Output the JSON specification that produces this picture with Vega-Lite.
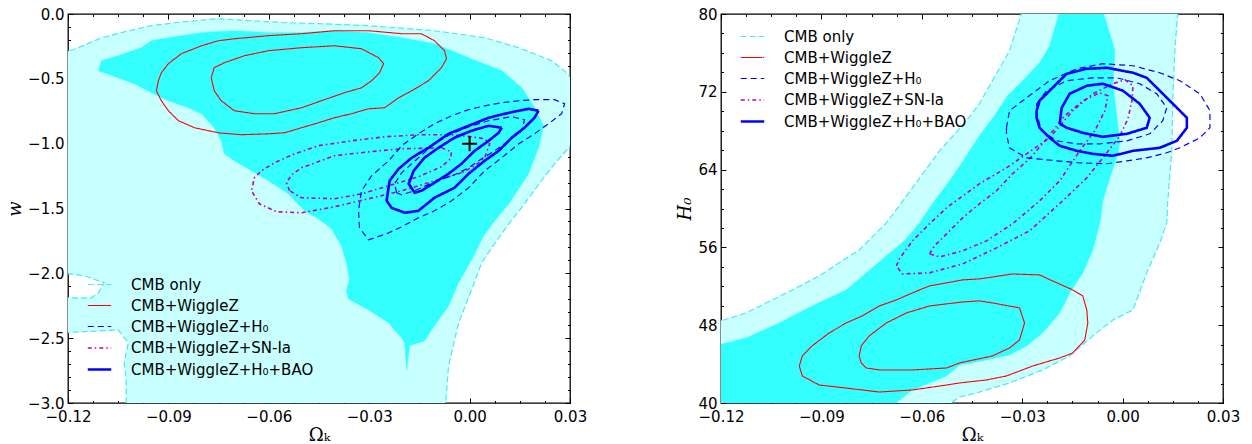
{
"$schema": "https://vega.github.io/schema/vega-lite/v6.json",
"padding": {"left": 5, "top": 6, "right": 5, "bottom": 5},
"spacing": 88,
"resolve": {"scale": {"color": "independent", "strokeDash": "independent", "strokeWidth": "independent"}, "legend": {"color": "independent", "strokeDash": "independent", "strokeWidth": "independent"}},
"config": {
  "view": {"stroke": "black", "strokeWidth": 1.3},
  "font": "DejaVu Sans",
  "axis": {"grid": false, "domain": false, "labelFont": "DejaVu Sans", "labelFontSize": 15, "labelColor": "black", "tickColor": "black", "tickWidth": 1, "labelFlush": false, "labelOverlap": false, "titleColor": "black", "titleFont": "DejaVu Serif", "titleFontSize": 18, "titleFontWeight": "normal"},
  "legend": {"labelFont": "DejaVu Sans", "labelFontSize": 15, "labelColor": "black", "symbolType": "stroke", "symbolSize": 550, "labelOffset": 18, "rowPadding": 0, "padding": 0, "labelLimit": 400}
},
"datasets": {
  "series": [
    {"c": "L95", "s": "CMB only"}, {"c": "R95", "s": "CMB only"},
    {"c": "Lr2", "s": "CMB+WiggleZ"}, {"c": "Lr1", "s": "CMB+WiggleZ"}, {"c": "Rr2", "s": "CMB+WiggleZ"}, {"c": "Rr1", "s": "CMB+WiggleZ"},
    {"c": "Lh2", "s": "CMB+WiggleZ+H₀"}, {"c": "Lh1", "s": "CMB+WiggleZ+H₀"}, {"c": "Rh2", "s": "CMB+WiggleZ+H₀"}, {"c": "Rh1", "s": "CMB+WiggleZ+H₀"},
    {"c": "Lm2", "s": "CMB+WiggleZ+SN-Ia"}, {"c": "Lm1", "s": "CMB+WiggleZ+SN-Ia"}, {"c": "Rm2", "s": "CMB+WiggleZ+SN-Ia"}, {"c": "Rm1", "s": "CMB+WiggleZ+SN-Ia"},
    {"c": "Lb2", "s": "CMB+WiggleZ+H₀+BAO"}, {"c": "Lb1", "s": "CMB+WiggleZ+H₀+BAO"}, {"c": "Rb2", "s": "CMB+WiggleZ+H₀+BAO"}, {"c": "Rb1", "s": "CMB+WiggleZ+H₀+BAO"}
  ],
  "marker": [{"x": 0, "y": -1}],
  "left": [
    {"c":"L95","x":-0.122,"y":-0.306},{"c":"L95","x":-0.1169,"y":-0.260},{"c":"L95","x":-0.1100,"y":-0.183},{"c":"L95","x":-0.1041,"y":-0.144},{"c":"L95","x":-0.0951,"y":-0.090},{"c":"L95","x":-0.0852,"y":-0.059},{"c":"L95","x":-0.0751,"y":-0.036},{"c":"L95","x":-0.0652,"y":-0.052},{"c":"L95","x":-0.0553,"y":-0.067},{"c":"L95","x":-0.0443,"y":-0.075},{"c":"L95","x":-0.0302,"y":-0.090},{"c":"L95","x":-0.0105,"y":-0.129},{"c":"L95","x":0.0045,"y":-0.183},{"c":"L95","x":0.0147,"y":-0.260},{"c":"L95","x":0.0245,"y":-0.360},{"c":"L95","x":0.0290,"y":-0.453},{"c":"L95","x":0.032,"y":-0.553},{"c":"L95","x":0.032,"y":-0.962},{"c":"L95","x":0.0254,"y":-1.155},{"c":"L95","x":0.0215,"y":-1.286},{"c":"L95","x":0.0164,"y":-1.464},{"c":"L95","x":0.0117,"y":-1.618},{"c":"L95","x":0.0066,"y":-1.803},{"c":"L95","x":0.0036,"y":-1.919},{"c":"L95","x":0.0006,"y":-2.127},{"c":"L95","x":-0.0033,"y":-2.382},{"c":"L95","x":-0.0063,"y":-2.714},{"c":"L95","x":-0.0072,"y":-3.02},{"c":"L95","x":-0.1026,"y":-3.02},{"c":"L95","x":-0.1026,"y":-2.822},{"c":"L95","x":-0.1032,"y":-2.691},{"c":"L95","x":-0.1020,"y":-2.536},{"c":"L95","x":-0.1050,"y":-2.436},{"c":"L95","x":-0.122,"y":-2.459},{"c":"L95","x":-0.122,"y":-2.189},{"c":"L95","x":-0.1130,"y":-2.189},{"c":"L95","x":-0.1109,"y":-2.150},{"c":"L95","x":-0.1092,"y":-2.073},{"c":"L95","x":-0.1151,"y":-2.019},{"c":"L95","x":-0.122,"y":-1.996},{"c":"L95","x":-0.122,"y":-0.306},
    {"c":"L68","x":-0.1109,"y":-0.437},{"c":"L68","x":-0.1100,"y":-0.360},{"c":"L68","x":-0.1050,"y":-0.322},{"c":"L68","x":-0.0981,"y":-0.260},{"c":"L68","x":-0.0951,"y":-0.206},{"c":"L68","x":-0.0900,"y":-0.183},{"c":"L68","x":-0.0801,"y":-0.144},{"c":"L68","x":-0.0703,"y":-0.129},{"c":"L68","x":-0.0601,"y":-0.144},{"c":"L68","x":-0.0502,"y":-0.144},{"c":"L68","x":-0.0404,"y":-0.129},{"c":"L68","x":-0.0302,"y":-0.144},{"c":"L68","x":-0.0203,"y":-0.183},{"c":"L68","x":-0.0105,"y":-0.229},{"c":"L68","x":-0.0003,"y":-0.337},{"c":"L68","x":0.0096,"y":-0.437},{"c":"L68","x":0.0156,"y":-0.569},{"c":"L68","x":0.0194,"y":-0.723},{"c":"L68","x":0.0221,"y":-0.862},{"c":"L68","x":0.0206,"y":-1.032},{"c":"L68","x":0.0176,"y":-1.232},{"c":"L68","x":0.0117,"y":-1.464},{"c":"L68","x":0.0075,"y":-1.595},{"c":"L68","x":0.0042,"y":-1.711},{"c":"L68","x":0.0006,"y":-1.896},{"c":"L68","x":-0.0033,"y":-2.073},{"c":"L68","x":-0.0063,"y":-2.251},{"c":"L68","x":-0.0105,"y":-2.405},{"c":"L68","x":-0.0135,"y":-2.521},{"c":"L68","x":-0.0179,"y":-2.559},{"c":"L68","x":-0.0188,"y":-2.745},{"c":"L68","x":-0.0194,"y":-2.536},{"c":"L68","x":-0.0203,"y":-2.498},{"c":"L68","x":-0.0242,"y":-2.382},{"c":"L68","x":-0.0302,"y":-2.282},{"c":"L68","x":-0.0362,"y":-2.197},{"c":"L68","x":-0.0368,"y":-2.135},{"c":"L68","x":-0.0359,"y":-2.042},{"c":"L68","x":-0.0368,"y":-1.919},{"c":"L68","x":-0.0383,"y":-1.788},{"c":"L68","x":-0.0413,"y":-1.657},{"c":"L68","x":-0.0452,"y":-1.579},{"c":"L68","x":-0.0493,"y":-1.518},{"c":"L68","x":-0.0541,"y":-1.387},{"c":"L68","x":-0.0601,"y":-1.286},{"c":"L68","x":-0.0652,"y":-1.209},{"c":"L68","x":-0.0703,"y":-1.132},{"c":"L68","x":-0.0733,"y":-1.078},{"c":"L68","x":-0.0742,"y":-0.978},{"c":"L68","x":-0.0763,"y":-0.877},{"c":"L68","x":-0.0801,"y":-0.769},{"c":"L68","x":-0.0840,"y":-0.723},{"c":"L68","x":-0.0900,"y":-0.669},{"c":"L68","x":-0.0951,"y":-0.607},{"c":"L68","x":-0.1002,"y":-0.538},{"c":"L68","x":-0.1050,"y":-0.492},{"c":"L68","x":-0.1109,"y":-0.437},
    {"c":"Lr2","x":-0.0936,"y":-0.592},{"c":"Lr2","x":-0.0930,"y":-0.515},{"c":"Lr2","x":-0.0921,"y":-0.453},{"c":"Lr2","x":-0.0900,"y":-0.383},{"c":"Lr2","x":-0.0861,"y":-0.306},{"c":"Lr2","x":-0.0801,"y":-0.245},{"c":"Lr2","x":-0.0751,"y":-0.206},{"c":"Lr2","x":-0.0703,"y":-0.191},{"c":"Lr2","x":-0.0601,"y":-0.167},{"c":"Lr2","x":-0.0502,"y":-0.152},{"c":"Lr2","x":-0.0404,"y":-0.129},{"c":"Lr2","x":-0.0302,"y":-0.129},{"c":"Lr2","x":-0.0203,"y":-0.152},{"c":"Lr2","x":-0.0144,"y":-0.152},{"c":"Lr2","x":-0.0105,"y":-0.206},{"c":"Lr2","x":-0.0075,"y":-0.283},{"c":"Lr2","x":-0.0069,"y":-0.345},{"c":"Lr2","x":-0.0084,"y":-0.414},{"c":"Lr2","x":-0.0123,"y":-0.515},{"c":"Lr2","x":-0.0173,"y":-0.592},{"c":"Lr2","x":-0.0212,"y":-0.646},{"c":"Lr2","x":-0.0254,"y":-0.723},{"c":"Lr2","x":-0.0302,"y":-0.731},{"c":"Lr2","x":-0.0353,"y":-0.769},{"c":"Lr2","x":-0.0404,"y":-0.800},{"c":"Lr2","x":-0.0452,"y":-0.839},{"c":"Lr2","x":-0.0502,"y":-0.877},{"c":"Lr2","x":-0.0553,"y":-0.916},{"c":"Lr2","x":-0.0601,"y":-0.924},{"c":"Lr2","x":-0.0682,"y":-0.931},{"c":"Lr2","x":-0.0751,"y":-0.916},{"c":"Lr2","x":-0.0822,"y":-0.877},{"c":"Lr2","x":-0.0870,"y":-0.823},{"c":"Lr2","x":-0.0900,"y":-0.746},{"c":"Lr2","x":-0.0921,"y":-0.669},{"c":"Lr2","x":-0.0936,"y":-0.592},
    {"c":"Lr1","x":-0.0772,"y":-0.492},{"c":"Lr1","x":-0.0763,"y":-0.414},{"c":"Lr1","x":-0.0733,"y":-0.376},{"c":"Lr1","x":-0.0673,"y":-0.322},{"c":"Lr1","x":-0.0601,"y":-0.283},{"c":"Lr1","x":-0.0502,"y":-0.260},{"c":"Lr1","x":-0.0404,"y":-0.245},{"c":"Lr1","x":-0.0323,"y":-0.268},{"c":"Lr1","x":-0.0272,"y":-0.337},{"c":"Lr1","x":-0.0257,"y":-0.383},{"c":"Lr1","x":-0.0269,"y":-0.453},{"c":"Lr1","x":-0.0293,"y":-0.515},{"c":"Lr1","x":-0.0323,"y":-0.569},{"c":"Lr1","x":-0.0374,"y":-0.607},{"c":"Lr1","x":-0.0443,"y":-0.669},{"c":"Lr1","x":-0.0502,"y":-0.723},{"c":"Lr1","x":-0.0583,"y":-0.769},{"c":"Lr1","x":-0.0643,"y":-0.769},{"c":"Lr1","x":-0.0703,"y":-0.746},{"c":"Lr1","x":-0.0742,"y":-0.669},{"c":"Lr1","x":-0.0763,"y":-0.592},{"c":"Lr1","x":-0.0772,"y":-0.492},
    {"c":"Lm2","x":-0.0024,"y":-1.225},{"c":"Lm2","x":-0.0084,"y":-1.271},{"c":"Lm2","x":-0.0203,"y":-1.363},{"c":"Lm2","x":-0.0302,"y":-1.425},{"c":"Lm2","x":-0.0404,"y":-1.487},{"c":"Lm2","x":-0.0502,"y":-1.533},{"c":"Lm2","x":-0.0577,"y":-1.525},{"c":"Lm2","x":-0.0628,"y":-1.464},{"c":"Lm2","x":-0.0652,"y":-1.363},{"c":"Lm2","x":-0.0643,"y":-1.263},{"c":"Lm2","x":-0.0622,"y":-1.209},{"c":"Lm2","x":-0.0583,"y":-1.147},{"c":"Lm2","x":-0.0523,"y":-1.078},{"c":"Lm2","x":-0.0452,"y":-1.016},{"c":"Lm2","x":-0.0353,"y":-0.978},{"c":"Lm2","x":-0.0254,"y":-0.947},{"c":"Lm2","x":-0.0153,"y":-0.931},{"c":"Lm2","x":-0.0054,"y":-0.931},{"c":"Lm2","x":0.0006,"y":-0.947},{"c":"Lm2","x":0.0045,"y":-0.962},{"c":"Lm2","x":0.0060,"y":-1.001},{"c":"Lm2","x":0.0045,"y":-1.109},{"c":"Lm2","x":0.0015,"y":-1.171},{"c":"Lm2","x":-0.0024,"y":-1.225},
    {"c":"Lm1","x":-0.0538,"y":-1.363},{"c":"Lm1","x":-0.0547,"y":-1.302},{"c":"Lm1","x":-0.0532,"y":-1.240},{"c":"Lm1","x":-0.0502,"y":-1.186},{"c":"Lm1","x":-0.0404,"y":-1.093},{"c":"Lm1","x":-0.0302,"y":-1.063},{"c":"Lm1","x":-0.0203,"y":-1.039},{"c":"Lm1","x":-0.0084,"y":-1.032},{"c":"Lm1","x":-0.0054,"y":-1.063},{"c":"Lm1","x":-0.0057,"y":-1.117},{"c":"Lm1","x":-0.0084,"y":-1.178},{"c":"Lm1","x":-0.0153,"y":-1.255},{"c":"Lm1","x":-0.0242,"y":-1.325},{"c":"Lm1","x":-0.0323,"y":-1.387},{"c":"Lm1","x":-0.0404,"y":-1.425},{"c":"Lm1","x":-0.0502,"y":-1.417},{"c":"Lm1","x":-0.0538,"y":-1.363},
    {"c":"Lh2","x":-0.0329,"y":-1.649},{"c":"Lh2","x":-0.0332,"y":-1.518},{"c":"Lh2","x":-0.0323,"y":-1.363},{"c":"Lh2","x":-0.0293,"y":-1.248},{"c":"Lh2","x":-0.0242,"y":-1.132},{"c":"Lh2","x":-0.0203,"y":-1.016},{"c":"Lh2","x":-0.0153,"y":-0.924},{"c":"Lh2","x":-0.0105,"y":-0.846},{"c":"Lh2","x":-0.0054,"y":-0.785},{"c":"Lh2","x":-0.0003,"y":-0.738},{"c":"Lh2","x":0.0045,"y":-0.708},{"c":"Lh2","x":0.0096,"y":-0.684},{"c":"Lh2","x":0.0147,"y":-0.669},{"c":"Lh2","x":0.0194,"y":-0.661},{"c":"Lh2","x":0.0254,"y":-0.661},{"c":"Lh2","x":0.0284,"y":-0.692},{"c":"Lh2","x":0.0275,"y":-0.769},{"c":"Lh2","x":0.0236,"y":-0.846},{"c":"Lh2","x":0.0194,"y":-0.924},{"c":"Lh2","x":0.0147,"y":-1.001},{"c":"Lh2","x":0.0096,"y":-1.109},{"c":"Lh2","x":0.0045,"y":-1.209},{"c":"Lh2","x":-0.0003,"y":-1.340},{"c":"Lh2","x":-0.0054,"y":-1.441},{"c":"Lh2","x":-0.0105,"y":-1.518},{"c":"Lh2","x":-0.0153,"y":-1.572},{"c":"Lh2","x":-0.0203,"y":-1.641},{"c":"Lh2","x":-0.0242,"y":-1.688},{"c":"Lh2","x":-0.0302,"y":-1.742},{"c":"Lh2","x":-0.0329,"y":-1.649},
    {"c":"Lh1","x":-0.0218,"y":-1.379},{"c":"Lh1","x":-0.0224,"y":-1.309},{"c":"Lh1","x":-0.0203,"y":-1.225},{"c":"Lh1","x":-0.0153,"y":-1.109},{"c":"Lh1","x":-0.0105,"y":-1.001},{"c":"Lh1","x":-0.0054,"y":-0.924},{"c":"Lh1","x":-0.0003,"y":-0.870},{"c":"Lh1","x":0.0057,"y":-0.823},{"c":"Lh1","x":0.0126,"y":-0.792},{"c":"Lh1","x":0.0164,"y":-0.816},{"c":"Lh1","x":0.0156,"y":-0.900},{"c":"Lh1","x":0.0117,"y":-0.978},{"c":"Lh1","x":0.0075,"y":-1.055},{"c":"Lh1","x":0.0036,"y":-1.117},{"c":"Lh1","x":-0.0003,"y":-1.186},{"c":"Lh1","x":-0.0045,"y":-1.240},{"c":"Lh1","x":-0.0105,"y":-1.294},{"c":"Lh1","x":-0.0164,"y":-1.363},{"c":"Lh1","x":-0.0203,"y":-1.394},{"c":"Lh1","x":-0.0218,"y":-1.379},
    {"c":"Lb2","x":0.0206,"y":-0.746},{"c":"Lb2","x":0.0194,"y":-0.800},{"c":"Lb2","x":0.0164,"y":-0.877},{"c":"Lb2","x":0.0126,"y":-0.954},{"c":"Lb2","x":0.0087,"y":-1.055},{"c":"Lb2","x":0.0045,"y":-1.132},{"c":"Lb2","x":-0.0003,"y":-1.232},{"c":"Lb2","x":-0.0045,"y":-1.340},{"c":"Lb2","x":-0.0105,"y":-1.417},{"c":"Lb2","x":-0.0153,"y":-1.518},{"c":"Lb2","x":-0.0194,"y":-1.533},{"c":"Lb2","x":-0.0233,"y":-1.495},{"c":"Lb2","x":-0.0248,"y":-1.440},{"c":"Lb2","x":-0.0239,"y":-1.286},{"c":"Lb2","x":-0.0212,"y":-1.194},{"c":"Lb2","x":-0.0173,"y":-1.109},{"c":"Lb2","x":-0.0123,"y":-1.032},{"c":"Lb2","x":-0.0063,"y":-0.924},{"c":"Lb2","x":-0.0003,"y":-0.862},{"c":"Lb2","x":0.0057,"y":-0.800},{"c":"Lb2","x":0.0117,"y":-0.762},{"c":"Lb2","x":0.0176,"y":-0.731},{"c":"Lb2","x":0.0206,"y":-0.746},
    {"c":"Lb1","x":0.0096,"y":-0.877},{"c":"Lb1","x":0.0087,"y":-0.916},{"c":"Lb1","x":0.0057,"y":-0.978},{"c":"Lb1","x":0.0015,"y":-1.055},{"c":"Lb1","x":-0.0024,"y":-1.155},{"c":"Lb1","x":-0.0063,"y":-1.232},{"c":"Lb1","x":-0.0105,"y":-1.302},{"c":"Lb1","x":-0.0144,"y":-1.363},{"c":"Lb1","x":-0.0164,"y":-1.379},{"c":"Lb1","x":-0.0182,"y":-1.309},{"c":"Lb1","x":-0.0167,"y":-1.209},{"c":"Lb1","x":-0.0135,"y":-1.109},{"c":"Lb1","x":-0.0093,"y":-1.032},{"c":"Lb1","x":-0.0045,"y":-0.954},{"c":"Lb1","x":0.0006,"y":-0.900},{"c":"Lb1","x":0.0057,"y":-0.862},{"c":"Lb1","x":0.0096,"y":-0.877}
  ],
  "right": [
    {"c":"R95","x":-0.122,"y":48.23},{"c":"R95","x":-0.1125,"y":49.26},{"c":"R95","x":-0.1047,"y":50.60},{"c":"R95","x":-0.0975,"y":51.83},{"c":"R95","x":-0.0907,"y":53.07},{"c":"R95","x":-0.0847,"y":54.41},{"c":"R95","x":-0.0787,"y":55.74},{"c":"R95","x":-0.0727,"y":57.80},{"c":"R95","x":-0.0706,"y":58.52},{"c":"R95","x":-0.0628,"y":62.12},{"c":"R95","x":-0.0547,"y":65.93},{"c":"R95","x":-0.0466,"y":69.02},{"c":"R95","x":-0.0428,"y":70.77},{"c":"R95","x":-0.0389,"y":73.14},{"c":"R95","x":-0.0338,"y":76.22},{"c":"R95","x":-0.0300,"y":80.3},{"c":"R95","x":0.0165,"y":80.3},{"c":"R95","x":0.0156,"y":76.22},{"c":"R95","x":0.0150,"y":71.08},{"c":"R95","x":0.0147,"y":65.93},{"c":"R95","x":0.0135,"y":60.79},{"c":"R95","x":0.0132,"y":58.52},{"c":"R95","x":0.0111,"y":56.46},{"c":"R95","x":0.0072,"y":53.38},{"c":"R95","x":0.0031,"y":49.57},{"c":"R95","x":-0.0029,"y":48.54},{"c":"R95","x":-0.0089,"y":46.90},{"c":"R95","x":-0.0158,"y":44.84},{"c":"R95","x":-0.0239,"y":43.40},{"c":"R95","x":-0.0338,"y":42.06},{"c":"R95","x":-0.0437,"y":41.03},{"c":"R95","x":-0.0487,"y":40.62},{"c":"R95","x":-0.0526,"y":39.7},{"c":"R95","x":-0.122,"y":39.7},{"c":"R95","x":-0.122,"y":48.23},
    {"c":"R68","x":-0.122,"y":45.87},{"c":"R68","x":-0.1125,"y":46.69},{"c":"R68","x":-0.1026,"y":48.23},{"c":"R68","x":-0.0928,"y":49.98},{"c":"R68","x":-0.0826,"y":51.63},{"c":"R68","x":-0.0766,"y":53.38},{"c":"R68","x":-0.0706,"y":55.13},{"c":"R68","x":-0.0652,"y":56.67},{"c":"R68","x":-0.0607,"y":58.52},{"c":"R68","x":-0.0562,"y":60.79},{"c":"R68","x":-0.0517,"y":62.85},{"c":"R68","x":-0.0472,"y":65.11},{"c":"R68","x":-0.0428,"y":67.48},{"c":"R68","x":-0.0383,"y":69.53},{"c":"R68","x":-0.0344,"y":71.59},{"c":"R68","x":-0.0293,"y":73.34},{"c":"R68","x":-0.0248,"y":74.99},{"c":"R68","x":-0.0218,"y":76.74},{"c":"R68","x":-0.0188,"y":80.3},{"c":"R68","x":-0.0059,"y":80.3},{"c":"R68","x":-0.0038,"y":77.97},{"c":"R68","x":-0.0023,"y":76.22},{"c":"R68","x":-0.0029,"y":72.83},{"c":"R68","x":-0.0017,"y":69.33},{"c":"R68","x":-0.0008,"y":66.96},{"c":"R68","x":-0.0014,"y":65.62},{"c":"R68","x":-0.0038,"y":63.15},{"c":"R68","x":-0.0059,"y":60.79},{"c":"R68","x":-0.0068,"y":58.52},{"c":"R68","x":-0.0089,"y":55.74},{"c":"R68","x":-0.0119,"y":53.38},{"c":"R68","x":-0.0158,"y":51.32},{"c":"R68","x":-0.0188,"y":49.26},{"c":"R68","x":-0.0239,"y":47.20},{"c":"R68","x":-0.0287,"y":45.87},{"c":"R68","x":-0.0338,"y":44.94},{"c":"R68","x":-0.0407,"y":44.43},{"c":"R68","x":-0.0487,"y":43.91},{"c":"R68","x":-0.0526,"y":42.78},{"c":"R68","x":-0.0628,"y":41.34},{"c":"R68","x":-0.0688,"y":39.7},{"c":"R68","x":-0.122,"y":39.7},{"c":"R68","x":-0.122,"y":45.87},
    {"c":"Rr2","x":-0.0966,"y":43.80},{"c":"Rr2","x":-0.0957,"y":44.84},{"c":"Rr2","x":-0.0928,"y":45.87},{"c":"Rr2","x":-0.0877,"y":47.20},{"c":"Rr2","x":-0.0826,"y":48.23},{"c":"Rr2","x":-0.0778,"y":48.95},{"c":"Rr2","x":-0.0727,"y":49.98},{"c":"Rr2","x":-0.0676,"y":50.60},{"c":"Rr2","x":-0.0628,"y":51.32},{"c":"Rr2","x":-0.0577,"y":52.04},{"c":"Rr2","x":-0.0526,"y":52.35},{"c":"Rr2","x":-0.0478,"y":52.66},{"c":"Rr2","x":-0.0428,"y":52.76},{"c":"Rr2","x":-0.0407,"y":52.86},{"c":"Rr2","x":-0.0329,"y":53.27},{"c":"Rr2","x":-0.0248,"y":53.17},{"c":"Rr2","x":-0.0209,"y":52.55},{"c":"Rr2","x":-0.0149,"y":51.63},{"c":"Rr2","x":-0.0119,"y":51.01},{"c":"Rr2","x":-0.0107,"y":49.57},{"c":"Rr2","x":-0.0104,"y":48.23},{"c":"Rr2","x":-0.0113,"y":46.48},{"c":"Rr2","x":-0.0149,"y":45.14},{"c":"Rr2","x":-0.0188,"y":44.63},{"c":"Rr2","x":-0.0269,"y":43.80},{"c":"Rr2","x":-0.0347,"y":42.78},{"c":"Rr2","x":-0.0407,"y":42.37},{"c":"Rr2","x":-0.0487,"y":42.06},{"c":"Rr2","x":-0.0526,"y":41.85},{"c":"Rr2","x":-0.0628,"y":41.34},{"c":"Rr2","x":-0.0727,"y":41.13},{"c":"Rr2","x":-0.0826,"y":41.54},{"c":"Rr2","x":-0.0907,"y":41.85},{"c":"Rr2","x":-0.0957,"y":42.78},{"c":"Rr2","x":-0.0966,"y":43.80},
    {"c":"Rr1","x":-0.0787,"y":44.84},{"c":"Rr1","x":-0.0781,"y":45.87},{"c":"Rr1","x":-0.0757,"y":46.90},{"c":"Rr1","x":-0.0706,"y":48.23},{"c":"Rr1","x":-0.0646,"y":49.26},{"c":"Rr1","x":-0.0577,"y":49.98},{"c":"Rr1","x":-0.0478,"y":50.39},{"c":"Rr1","x":-0.0428,"y":50.50},{"c":"Rr1","x":-0.0389,"y":50.29},{"c":"Rr1","x":-0.0308,"y":49.78},{"c":"Rr1","x":-0.0293,"y":48.23},{"c":"Rr1","x":-0.0308,"y":46.48},{"c":"Rr1","x":-0.0338,"y":45.66},{"c":"Rr1","x":-0.0389,"y":44.84},{"c":"Rr1","x":-0.0487,"y":44.12},{"c":"Rr1","x":-0.0526,"y":43.60},{"c":"Rr1","x":-0.0628,"y":43.40},{"c":"Rr1","x":-0.0727,"y":43.40},{"c":"Rr1","x":-0.0766,"y":43.60},{"c":"Rr1","x":-0.0781,"y":44.12},{"c":"Rr1","x":-0.0787,"y":44.84},
    {"c":"Rm2","x":-0.0676,"y":54.10},{"c":"Rm2","x":-0.0667,"y":54.82},{"c":"Rm2","x":-0.0628,"y":56.67},{"c":"Rm2","x":-0.0577,"y":58.42},{"c":"Rm2","x":-0.0526,"y":60.07},{"c":"Rm2","x":-0.0428,"y":62.54},{"c":"Rm2","x":-0.0347,"y":64.18},{"c":"Rm2","x":-0.0287,"y":65.62},{"c":"Rm2","x":-0.0218,"y":67.27},{"c":"Rm2","x":-0.0149,"y":70.05},{"c":"Rm2","x":-0.0089,"y":71.80},{"c":"Rm2","x":-0.0029,"y":72.83},{"c":"Rm2","x":0.0007,"y":73.24},{"c":"Rm2","x":0.0031,"y":72.62},{"c":"Rm2","x":0.0028,"y":71.08},{"c":"Rm2","x":0.0016,"y":69.23},{"c":"Rm2","x":-0.0008,"y":67.48},{"c":"Rm2","x":-0.0059,"y":65.21},{"c":"Rm2","x":-0.0107,"y":63.15},{"c":"Rm2","x":-0.0179,"y":60.79},{"c":"Rm2","x":-0.0278,"y":57.70},{"c":"Rm2","x":-0.0377,"y":55.95},{"c":"Rm2","x":-0.0478,"y":54.30},{"c":"Rm2","x":-0.0577,"y":53.38},{"c":"Rm2","x":-0.0658,"y":53.27},{"c":"Rm2","x":-0.0676,"y":54.10},
    {"c":"Rm1","x":-0.0577,"y":55.33},{"c":"Rm1","x":-0.0562,"y":56.16},{"c":"Rm1","x":-0.0526,"y":57.39},{"c":"Rm1","x":-0.0478,"y":59.04},{"c":"Rm1","x":-0.0428,"y":60.48},{"c":"Rm1","x":-0.0377,"y":61.82},{"c":"Rm1","x":-0.0329,"y":63.57},{"c":"Rm1","x":-0.0278,"y":65.11},{"c":"Rm1","x":-0.0227,"y":67.17},{"c":"Rm1","x":-0.0173,"y":69.53},{"c":"Rm1","x":-0.0119,"y":71.08},{"c":"Rm1","x":-0.0068,"y":71.90},{"c":"Rm1","x":-0.0044,"y":71.59},{"c":"Rm1","x":-0.0053,"y":70.05},{"c":"Rm1","x":-0.0083,"y":67.99},{"c":"Rm1","x":-0.0128,"y":65.93},{"c":"Rm1","x":-0.0188,"y":62.85},{"c":"Rm1","x":-0.0248,"y":60.79},{"c":"Rm1","x":-0.0329,"y":58.42},{"c":"Rm1","x":-0.0407,"y":56.67},{"c":"Rm1","x":-0.0478,"y":55.64},{"c":"Rm1","x":-0.0547,"y":55.02},{"c":"Rm1","x":-0.0577,"y":55.33},
    {"c":"Rh2","x":-0.0347,"y":68.30},{"c":"Rh2","x":-0.0338,"y":70.05},{"c":"Rh2","x":-0.0287,"y":71.39},{"c":"Rh2","x":-0.0218,"y":73.14},{"c":"Rh2","x":-0.0137,"y":74.37},{"c":"Rh2","x":-0.0059,"y":74.89},{"c":"Rh2","x":0.0031,"y":74.68},{"c":"Rh2","x":0.0111,"y":73.96},{"c":"Rh2","x":0.0171,"y":73.14},{"c":"Rh2","x":0.0231,"y":71.80},{"c":"Rh2","x":0.0261,"y":70.05},{"c":"Rh2","x":0.0261,"y":68.30},{"c":"Rh2","x":0.0231,"y":67.27},{"c":"Rh2","x":0.0171,"y":66.24},{"c":"Rh2","x":0.0132,"y":65.73},{"c":"Rh2","x":0.0072,"y":65.21},{"c":"Rh2","x":0.0013,"y":64.90},{"c":"Rh2","x":-0.0047,"y":64.60},{"c":"Rh2","x":-0.0128,"y":64.70},{"c":"Rh2","x":-0.0197,"y":64.90},{"c":"Rh2","x":-0.0287,"y":65.21},{"c":"Rh2","x":-0.0338,"y":66.24},{"c":"Rh2","x":-0.0347,"y":67.68},{"c":"Rh2","x":-0.0347,"y":68.30},
    {"c":"Rh1","x":-0.0257,"y":70.77},{"c":"Rh1","x":-0.0227,"y":72.11},{"c":"Rh1","x":-0.0167,"y":73.14},{"c":"Rh1","x":-0.0089,"y":73.44},{"c":"Rh1","x":-0.0017,"y":73.44},{"c":"Rh1","x":0.0051,"y":72.83},{"c":"Rh1","x":0.0102,"y":71.80},{"c":"Rh1","x":0.0132,"y":70.36},{"c":"Rh1","x":0.0120,"y":69.02},{"c":"Rh1","x":0.0081,"y":67.68},{"c":"Rh1","x":0.0013,"y":66.96},{"c":"Rh1","x":-0.0068,"y":66.65},{"c":"Rh1","x":-0.0137,"y":66.65},{"c":"Rh1","x":-0.0197,"y":66.96},{"c":"Rh1","x":-0.0242,"y":67.99},{"c":"Rh1","x":-0.0257,"y":69.74},{"c":"Rh1","x":-0.0257,"y":70.77},
    {"c":"Rb2","x":-0.0257,"y":70.05},{"c":"Rb2","x":-0.0248,"y":71.08},{"c":"Rb2","x":-0.0209,"y":72.42},{"c":"Rb2","x":-0.0167,"y":73.86},{"c":"Rb2","x":-0.0107,"y":74.37},{"c":"Rb2","x":-0.0047,"y":74.47},{"c":"Rb2","x":0.0031,"y":73.96},{"c":"Rb2","x":0.0072,"y":73.44},{"c":"Rb2","x":0.0111,"y":72.11},{"c":"Rb2","x":0.0162,"y":70.36},{"c":"Rb2","x":0.0192,"y":69.33},{"c":"Rb2","x":0.0192,"y":68.30},{"c":"Rb2","x":0.0162,"y":66.96},{"c":"Rb2","x":0.0111,"y":66.24},{"c":"Rb2","x":0.0031,"y":65.93},{"c":"Rb2","x":-0.0029,"y":65.42},{"c":"Rb2","x":-0.0089,"y":65.62},{"c":"Rb2","x":-0.0137,"y":65.93},{"c":"Rb2","x":-0.0188,"y":66.45},{"c":"Rb2","x":-0.0218,"y":67.27},{"c":"Rb2","x":-0.0248,"y":68.30},{"c":"Rb2","x":-0.0257,"y":69.33},{"c":"Rb2","x":-0.0257,"y":70.05},
    {"c":"Rb1","x":-0.0188,"y":68.71},{"c":"Rb1","x":-0.0182,"y":70.36},{"c":"Rb1","x":-0.0158,"y":71.80},{"c":"Rb1","x":-0.0107,"y":72.62},{"c":"Rb1","x":-0.0059,"y":72.83},{"c":"Rb1","x":0.0001,"y":72.11},{"c":"Rb1","x":0.0051,"y":70.77},{"c":"Rb1","x":0.0081,"y":69.33},{"c":"Rb1","x":0.0072,"y":68.30},{"c":"Rb1","x":0.0013,"y":67.68},{"c":"Rb1","x":-0.0059,"y":67.37},{"c":"Rb1","x":-0.0119,"y":67.78},{"c":"Rb1","x":-0.0167,"y":68.30},{"c":"Rb1","x":-0.0188,"y":68.71}
  ]
},
"hconcat": [
  {
    "width": 502, "height": 389,
    "resolve": {"axis": {"x": "independent", "y": "independent"}},
    "layer": [
      {
        "data": {"name": "left"},
        "transform": [{"filter": "datum.c == 'L95'"}],
        "mark": {"type": "line", "fill": "#c8ffff", "stroke": "#c8ffff", "strokeWidth": 0.5, "clip": true},
        "encoding": {
          "x": {"field": "x", "type": "quantitative", "scale": {"domain": [-0.12, 0.03], "nice": false, "zero": false},
                "axis": {"orient": "bottom", "values": [-0.12, -0.09, -0.06, -0.03, 0, 0.03], "format": ".2f", "tickSize": -5, "labelPadding": 11, "title": "Ωₖ", "titlePadding": 2}},
          "y": {"field": "y", "type": "quantitative", "scale": {"domain": [-3, 0], "nice": false, "zero": false},
                "axis": {"orient": "left", "values": [-3, -2.5, -2, -1.5, -1, -0.5, 0], "format": ".1f", "tickSize": -5, "labelPadding": 9, "title": "w", "titleFontStyle": "italic", "titlePadding": 3}},
          "order": {"value": null}
        }
      },
      {
        "data": {"name": "left"},
        "transform": [{"filter": "datum.c == 'L68'"}],
        "mark": {"type": "line", "fill": "#33ffff", "stroke": "#33ffff", "strokeWidth": 0.5, "clip": true},
        "encoding": {
          "x": {"field": "x", "type": "quantitative", "scale": {"domain": [-0.12, 0.03], "nice": false, "zero": false},
                "axis": {"orient": "bottom", "values": [-0.1125, -0.105, -0.0975, -0.0825, -0.075, -0.0675, -0.0525, -0.045, -0.0375, -0.0225, -0.015, -0.0075, 0.0075, 0.015, 0.0225], "labels": false, "tickSize": -2.5, "title": null}},
          "y": {"field": "y", "type": "quantitative", "scale": {"domain": [-3, 0], "nice": false, "zero": false},
                "axis": {"orient": "left", "values": [-2.9, -2.8, -2.7, -2.6, -2.4, -2.3, -2.2, -2.1, -1.9, -1.8, -1.7, -1.6, -1.4, -1.3, -1.2, -1.1, -0.9, -0.8, -0.7, -0.6, -0.4, -0.3, -0.2, -0.1], "labels": false, "tickSize": -2.5, "title": null}},
          "order": {"value": null}
        }
      },
      {
        "data": {"name": "left"},
        "transform": [
          {"lookup": "c", "from": {"data": {"name": "series"}, "key": "c", "fields": ["s"]}},
          {"filter": "datum.c != 'L68' && datum.s != 'CMB+WiggleZ+H₀+BAO'"}
        ],
        "mark": {"type": "line", "clip": true},
        "encoding": {
          "x": {"field": "x", "type": "quantitative", "scale": {"domain": [-0.12, 0.03], "nice": false, "zero": false},
                "axis": {"orient": "top", "values": [-0.12, -0.09, -0.06, -0.03, 0, 0.03], "labels": false, "tickSize": -5, "title": null}},
          "y": {"field": "y", "type": "quantitative", "scale": {"domain": [-3, 0], "nice": false, "zero": false},
                "axis": {"orient": "right", "values": [-3, -2.5, -2, -1.5, -1, -0.5, 0], "labels": false, "tickSize": -5, "title": null}},
          "detail": {"field": "c"},
          "order": {"value": null},
          "color": {"field": "s", "type": "nominal", "scale": {"domain": ["CMB only", "CMB+WiggleZ", "CMB+WiggleZ+H₀", "CMB+WiggleZ+SN-Ia", "CMB+WiggleZ+H₀+BAO"], "range": ["#4de8f0", "#ff0000", "#0000ff", "#bf00bf", "#0000ff"]},
                    "legend": {"title": null, "orient": "none", "legendX": 18, "legendY": 258}},
          "strokeDash": {"field": "s", "type": "nominal", "scale": {"domain": ["CMB only", "CMB+WiggleZ", "CMB+WiggleZ+H₀", "CMB+WiggleZ+SN-Ia", "CMB+WiggleZ+H₀+BAO"], "range": [[6, 3], [1, 0], [6, 4], [4, 3, 1.5, 3], [1, 0]]},
                    "legend": {"title": null, "orient": "none", "legendX": 18, "legendY": 258}},
          "strokeWidth": {"field": "s", "type": "nominal", "scale": {"type": "ordinal", "domain": ["CMB only", "CMB+WiggleZ", "CMB+WiggleZ+H₀", "CMB+WiggleZ+SN-Ia", "CMB+WiggleZ+H₀+BAO"], "range": [1.2, 1.1, 1.2, 1.6, 2.6]},
                    "legend": {"title": null, "orient": "none", "legendX": 18, "legendY": 258}}
        }
      },
      {
        "data": {"name": "left"},
        "transform": [
          {"lookup": "c", "from": {"data": {"name": "series"}, "key": "c", "fields": ["s"]}},
          {"filter": "datum.s == 'CMB+WiggleZ+H₀+BAO'"}
        ],
        "mark": {"type": "line", "clip": true},
        "encoding": {
          "x": {"field": "x", "type": "quantitative", "scale": {"domain": [-0.12, 0.03], "nice": false, "zero": false},
                "axis": {"orient": "top", "values": [-0.1125, -0.105, -0.0975, -0.0825, -0.075, -0.0675, -0.0525, -0.045, -0.0375, -0.0225, -0.015, -0.0075, 0.0075, 0.015, 0.0225], "labels": false, "tickSize": -2.5, "title": null}},
          "y": {"field": "y", "type": "quantitative", "scale": {"domain": [-3, 0], "nice": false, "zero": false},
                "axis": {"orient": "right", "values": [-2.9, -2.8, -2.7, -2.6, -2.4, -2.3, -2.2, -2.1, -1.9, -1.8, -1.7, -1.6, -1.4, -1.3, -1.2, -1.1, -0.9, -0.8, -0.7, -0.6, -0.4, -0.3, -0.2, -0.1], "labels": false, "tickSize": -2.5, "title": null}},
          "detail": {"field": "c"},
          "order": {"value": null},
          "color": {"field": "s", "type": "nominal", "scale": {"domain": ["CMB only", "CMB+WiggleZ", "CMB+WiggleZ+H₀", "CMB+WiggleZ+SN-Ia", "CMB+WiggleZ+H₀+BAO"], "range": ["#4de8f0", "#ff0000", "#0000ff", "#bf00bf", "#0000ff"]},
                    "legend": {"title": null, "orient": "none", "legendX": 18, "legendY": 258}},
          "strokeDash": {"field": "s", "type": "nominal", "scale": {"domain": ["CMB only", "CMB+WiggleZ", "CMB+WiggleZ+H₀", "CMB+WiggleZ+SN-Ia", "CMB+WiggleZ+H₀+BAO"], "range": [[6, 3], [1, 0], [6, 4], [4, 3, 1.5, 3], [1, 0]]},
                    "legend": {"title": null, "orient": "none", "legendX": 18, "legendY": 258}},
          "strokeWidth": {"field": "s", "type": "nominal", "scale": {"type": "ordinal", "domain": ["CMB only", "CMB+WiggleZ", "CMB+WiggleZ+H₀", "CMB+WiggleZ+SN-Ia", "CMB+WiggleZ+H₀+BAO"], "range": [1.2, 1.1, 1.2, 1.6, 2.6]},
                    "legend": {"title": null, "orient": "none", "legendX": 18, "legendY": 258}}
        }
      },
      {
        "data": {"name": "marker"},
        "mark": {"type": "point", "shape": "M-1,0L1,0M0,-1L0,1", "filled": false, "stroke": "black", "strokeWidth": 2, "size": 225, "opacity": 1},
        "encoding": {
          "x": {"field": "x", "type": "quantitative", "scale": {"domain": [-0.12, 0.03], "nice": false, "zero": false}, "axis": null},
          "y": {"field": "y", "type": "quantitative", "scale": {"domain": [-3, 0], "nice": false, "zero": false}, "axis": null}
        }
      }
    ]
  },
  {
    "width": 502, "height": 389,
    "resolve": {"axis": {"x": "independent", "y": "independent"}},
    "layer": [
      {
        "data": {"name": "right"},
        "transform": [{"filter": "datum.c == 'R95'"}],
        "mark": {"type": "line", "fill": "#c8ffff", "stroke": "#c8ffff", "strokeWidth": 0.5, "clip": true},
        "encoding": {
          "x": {"field": "x", "type": "quantitative", "scale": {"domain": [-0.12, 0.03], "nice": false, "zero": false},
                "axis": {"orient": "bottom", "values": [-0.12, -0.09, -0.06, -0.03, 0, 0.03], "format": ".2f", "tickSize": -5, "labelPadding": 11, "title": "Ωₖ", "titlePadding": 2}},
          "y": {"field": "y", "type": "quantitative", "scale": {"domain": [40, 80], "nice": false, "zero": false},
                "axis": {"orient": "left", "values": [40, 48, 56, 64, 72, 80], "format": "d", "tickSize": -5, "labelPadding": 9, "title": "H₀", "titleFontStyle": "italic", "titlePadding": 3}},
          "order": {"value": null}
        }
      },
      {
        "data": {"name": "right"},
        "transform": [{"filter": "datum.c == 'R68'"}],
        "mark": {"type": "line", "fill": "#33ffff", "stroke": "#33ffff", "strokeWidth": 0.5, "clip": true},
        "encoding": {
          "x": {"field": "x", "type": "quantitative", "scale": {"domain": [-0.12, 0.03], "nice": false, "zero": false},
                "axis": {"orient": "bottom", "values": [-0.1125, -0.105, -0.0975, -0.0825, -0.075, -0.0675, -0.0525, -0.045, -0.0375, -0.0225, -0.015, -0.0075, 0.0075, 0.015, 0.0225], "labels": false, "tickSize": -2.5, "title": null}},
          "y": {"field": "y", "type": "quantitative", "scale": {"domain": [40, 80], "nice": false, "zero": false},
                "axis": {"orient": "left", "values": [42, 44, 46, 50, 52, 54, 58, 60, 62, 66, 68, 70, 74, 76, 78], "labels": false, "tickSize": -2.5, "title": null}},
          "order": {"value": null}
        }
      },
      {
        "data": {"name": "right"},
        "transform": [
          {"lookup": "c", "from": {"data": {"name": "series"}, "key": "c", "fields": ["s"]}},
          {"filter": "datum.c != 'R68' && datum.s != 'CMB+WiggleZ+H₀+BAO'"}
        ],
        "mark": {"type": "line", "clip": true},
        "encoding": {
          "x": {"field": "x", "type": "quantitative", "scale": {"domain": [-0.12, 0.03], "nice": false, "zero": false},
                "axis": {"orient": "top", "values": [-0.12, -0.09, -0.06, -0.03, 0, 0.03], "labels": false, "tickSize": -5, "title": null}},
          "y": {"field": "y", "type": "quantitative", "scale": {"domain": [40, 80], "nice": false, "zero": false},
                "axis": {"orient": "right", "values": [40, 48, 56, 64, 72, 80], "labels": false, "tickSize": -5, "title": null}},
          "detail": {"field": "c"},
          "order": {"value": null},
          "color": {"field": "s", "type": "nominal", "scale": {"domain": ["CMB only", "CMB+WiggleZ", "CMB+WiggleZ+H₀", "CMB+WiggleZ+SN-Ia", "CMB+WiggleZ+H₀+BAO"], "range": ["#4de8f0", "#ff0000", "#0000ff", "#bf00bf", "#0000ff"]},
                    "legend": {"title": null, "orient": "none", "legendX": 18, "legendY": 10}},
          "strokeDash": {"field": "s", "type": "nominal", "scale": {"domain": ["CMB only", "CMB+WiggleZ", "CMB+WiggleZ+H₀", "CMB+WiggleZ+SN-Ia", "CMB+WiggleZ+H₀+BAO"], "range": [[6, 3], [1, 0], [6, 4], [4, 3, 1.5, 3], [1, 0]]},
                    "legend": {"title": null, "orient": "none", "legendX": 18, "legendY": 10}},
          "strokeWidth": {"field": "s", "type": "nominal", "scale": {"type": "ordinal", "domain": ["CMB only", "CMB+WiggleZ", "CMB+WiggleZ+H₀", "CMB+WiggleZ+SN-Ia", "CMB+WiggleZ+H₀+BAO"], "range": [1.2, 1.1, 1.2, 1.6, 2.6]},
                    "legend": {"title": null, "orient": "none", "legendX": 18, "legendY": 10}}
        }
      },
      {
        "data": {"name": "right"},
        "transform": [
          {"lookup": "c", "from": {"data": {"name": "series"}, "key": "c", "fields": ["s"]}},
          {"filter": "datum.s == 'CMB+WiggleZ+H₀+BAO'"}
        ],
        "mark": {"type": "line", "clip": true},
        "encoding": {
          "x": {"field": "x", "type": "quantitative", "scale": {"domain": [-0.12, 0.03], "nice": false, "zero": false},
                "axis": {"orient": "top", "values": [-0.1125, -0.105, -0.0975, -0.0825, -0.075, -0.0675, -0.0525, -0.045, -0.0375, -0.0225, -0.015, -0.0075, 0.0075, 0.015, 0.0225], "labels": false, "tickSize": -2.5, "title": null}},
          "y": {"field": "y", "type": "quantitative", "scale": {"domain": [40, 80], "nice": false, "zero": false},
                "axis": {"orient": "right", "values": [42, 44, 46, 50, 52, 54, 58, 60, 62, 66, 68, 70, 74, 76, 78], "labels": false, "tickSize": -2.5, "title": null}},
          "detail": {"field": "c"},
          "order": {"value": null},
          "color": {"field": "s", "type": "nominal", "scale": {"domain": ["CMB only", "CMB+WiggleZ", "CMB+WiggleZ+H₀", "CMB+WiggleZ+SN-Ia", "CMB+WiggleZ+H₀+BAO"], "range": ["#4de8f0", "#ff0000", "#0000ff", "#bf00bf", "#0000ff"]},
                    "legend": {"title": null, "orient": "none", "legendX": 18, "legendY": 10}},
          "strokeDash": {"field": "s", "type": "nominal", "scale": {"domain": ["CMB only", "CMB+WiggleZ", "CMB+WiggleZ+H₀", "CMB+WiggleZ+SN-Ia", "CMB+WiggleZ+H₀+BAO"], "range": [[6, 3], [1, 0], [6, 4], [4, 3, 1.5, 3], [1, 0]]},
                    "legend": {"title": null, "orient": "none", "legendX": 18, "legendY": 10}},
          "strokeWidth": {"field": "s", "type": "nominal", "scale": {"type": "ordinal", "domain": ["CMB only", "CMB+WiggleZ", "CMB+WiggleZ+H₀", "CMB+WiggleZ+SN-Ia", "CMB+WiggleZ+H₀+BAO"], "range": [1.2, 1.1, 1.2, 1.6, 2.6]},
                    "legend": {"title": null, "orient": "none", "legendX": 18, "legendY": 10}}
        }
      }
    ]
  }
]
}
